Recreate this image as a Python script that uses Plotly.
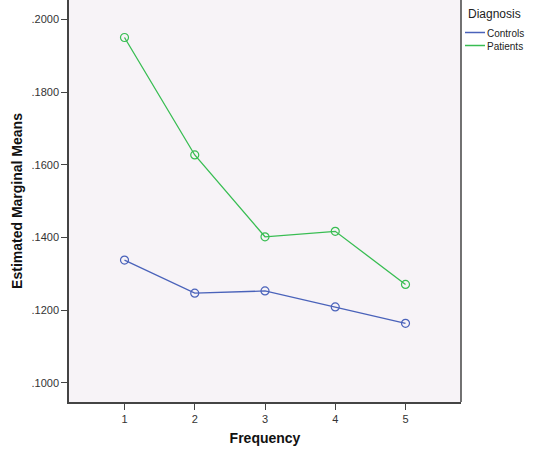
import plotly.graph_objects as go

frequency = [1, 2, 3, 4, 5]
controls = [0.1338, 0.1247, 0.1253, 0.1209, 0.1164]
patients = [0.1950, 0.1627, 0.1402, 0.1417, 0.1271]
y_tickvals = [0.10, 0.12, 0.14, 0.16, 0.18, 0.20]
y_ticktext = [".1000", ".1200", ".1400", ".1600", ".1800", ".2000"]
x_ticktext = ["1", "2", "3", "4", "5"]
series_names = ["Controls", "Patients"]
legend_title = "Diagnosis"

blue = "#4A62BA"
green = "#38BD52"
colors = [blue, green]
font_family = "Liberation Sans, Arial, sans-serif"

W, H = 534, 453
ML, MR, MT, MB = 69, 73, 0, 51
PW = W - ML - MR
PH = H - MT - MB

def px_x(x):
    return (x - ML) / PW

def px_y(y):
    return 1 - (y - MT) / PH

fig = go.Figure()
for name, vals, col in zip(series_names, [controls, patients], colors):
    fig.add_trace(go.Scatter(
        x=frequency, y=vals, mode="lines+markers", name=name, showlegend=False,
        line=dict(color=col, width=1.3),
        marker=dict(symbol="circle-open", size=8, color=col, line=dict(width=1.2)),
    ))

annotations = [dict(
    text=legend_title, xref="paper", yref="paper", x=px_x(466), y=px_y(14),
    xanchor="left", yanchor="middle", showarrow=False,
    font=dict(size=12, color="#222222", family=font_family),
)]
shapes = [dict(type="line", xref="paper", yref="paper", x0=1, x1=1, y0=0, y1=1,
               line=dict(color="#444444", width=1.5))]
for i, (name, col) in enumerate(zip(series_names, colors)):
    yy = 32.5 + 13 * i
    shapes.append(dict(type="line", xref="paper", yref="paper",
                       x0=px_x(465), x1=px_x(485), y0=px_y(yy), y1=px_y(yy),
                       line=dict(color=col, width=1.5)))
    annotations.append(dict(
        text=name, xref="paper", yref="paper", x=px_x(485), y=px_y(yy + 0.5),
        xanchor="left", yanchor="middle", showarrow=False,
        font=dict(size=10, color="#222222", family=font_family),
    ))

fig.update_layout(
    width=W, height=H,
    margin=dict(l=ML, r=MR, t=MT, b=MB, autoexpand=False),
    paper_bgcolor="white",
    plot_bgcolor="#F7F3F7",
    font=dict(family=font_family, color="#333333"),
    showlegend=False,
    xaxis=dict(
        range=[0.21, 5.79], tickvals=frequency, ticktext=x_ticktext,
        showgrid=False, zeroline=False,
        showline=True, linecolor="#444444", linewidth=1.5,
        ticks="outside", ticklen=6, tickcolor="#444444", tickwidth=1,
        tickfont=dict(size=11, color="#333333"),
        title=dict(text="<b>Frequency</b>", font=dict(size=14, color="#111111"), standoff=9),
    ),
    yaxis=dict(
        range=[0.09477, 0.20531], tickvals=y_tickvals, ticktext=y_ticktext,
        showgrid=False, zeroline=False,
        showline=True, linecolor="#444444", linewidth=1.5,
        ticks="outside", ticklen=6, tickcolor="#444444", tickwidth=1,
        tickfont=dict(size=11, color="#333333"),
        title=dict(text="<b>Estimated Marginal Means</b>", font=dict(size=14, color="#111111"), standoff=6),
    ),
    shapes=shapes,
    annotations=annotations,
)

fig.write_html("out.html", config={"displayModeBar": False},
               post_script="document.body.style.margin='0';")
